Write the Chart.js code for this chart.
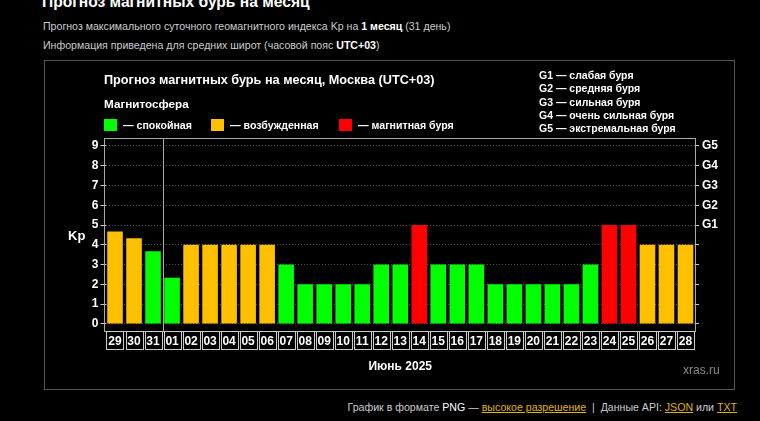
<!DOCTYPE html>
<html>
<head>
<meta charset="utf-8">
<script src="https://cdn.jsdelivr.net/npm/chart.js@4"></script>
<style>
  html, body { margin: 0; padding: 0; background: #000; }
  body { width: 760px; height: 421px; position: relative; overflow: hidden; font-family: "Liberation Sans", Arial, sans-serif; color: #fff; }
  .t { position: absolute; white-space: nowrap; }
  .b { font-weight: bold; }
  #box { position: absolute; left: 44px; top: 60px; width: 689px; height: 328px; border: 1px solid #555; }
  #kpChart { position: absolute; left: 44px; top: 60px; }
  .sq { position: absolute; width: 13px; height: 12px; }
  .lnk { color: #e0b400; text-decoration: underline; }
</style>
</head>
<body>
<div class="t b" style="left:42px; top:-7px; font-size:15.6px; line-height:18px;">Прогноз магнитных бурь на месяц</div>
<div class="t" style="left:43px; top:19px; font-size:10.6px; line-height:14px; color:#ccc;">Прогноз максимального суточного геомагнитного индекса Kp на <b style="color:#fff">1 месяц</b> (31 день)</div>
<div class="t" style="left:43px; top:38px; font-size:10.6px; line-height:14px; color:#ccc;">Информация приведена для средних широт (часовой пояс <b style="color:#fff">UTC+03</b>)</div>

<div id="box"></div>
<canvas id="kpChart" width="690" height="329"></canvas>

<div class="t b" style="left:104px; top:72px; font-size:12.7px; line-height:16px;">Прогноз магнитных бурь на месяц, Москва (UTC+03)</div>
<div class="t b" style="left:104px; top:96px; font-size:11.7px; line-height:15px;">Магнитосфера</div>
<div class="sq" style="left:104px; top:119px; background:#00ff00;"></div>
<div class="t b" style="left:123px; top:118px; font-size:10.6px; line-height:14px;">— спокойная</div>
<div class="sq" style="left:211px; top:119px; background:#ffc000;"></div>
<div class="t b" style="left:230px; top:118px; font-size:10.6px; line-height:14px;">— возбужденная</div>
<div class="sq" style="left:339px; top:119px; background:#ff0000;"></div>
<div class="t b" style="left:358px; top:118px; font-size:10.6px; line-height:14px;">— магнитная буря</div>

<div class="t b" style="left:539px; top:69px; font-size:10.5px; line-height:13.3px;">G1 — слабая буря<br>G2 — средняя буря<br>G3 — сильная буря<br>G4 — очень сильная буря<br>G5 — экстремальная буря</div>

<div class="t b" style="left:68px; top:228px; font-size:13px; line-height:16px;">Kp</div>
<div class="t" style="left:683px; top:363px; font-size:12px; line-height:15px; color:#8a8a8a;">xras.ru</div>

<div class="t" style="right:23px; top:400px; font-size:10.6px; line-height:15px; color:#ccc;">График в формате <span style="color:#fff">PNG</span> — <span class="lnk">высокое разрешение</span> &nbsp;|&nbsp; Данные API: <span class="lnk">JSON</span> или <span class="lnk">TXT</span></div>

<script>
// forecast days: 29 May .. 28 June 2025
const days = ['29', '30', '31', '01', '02', '03', '04', '05', '06', '07', '08', '09', '10', '11', '12', '13',
  '14', '15', '16', '17', '18', '19', '20', '21', '22', '23', '24', '25', '26', '27', '28'];
const kpValues = [4.67, 4.33, 3.67, 2.33, 4, 4, 4, 4, 4, 3, 2, 2, 2, 2, 3, 3,
  5, 3, 3, 3, 2, 2, 2, 2, 2, 3, 5, 5, 4, 4, 4];
const kpTicks = [0, 1, 2, 3, 4, 5, 6, 7, 8, 9];
const gLabels = { 5: 'G1', 6: 'G2', 7: 'G3', 8: 'G4', 9: 'G5' };
const monthLabel = 'Июнь 2025';
const monthStartIndex = 3;

function kpColor(v) {
  if (v >= 5) return '#ff0000';
  if (v >= 4) return '#ffc000';
  return '#00ff00';
}

const tickFont = { family: 'Liberation Sans', size: 12, weight: 'bold' };

const framePlugin = {
  id: 'frame',
  afterDraw(chart) {
    const ctx = chart.ctx;
    const area = chart.chartArea;
    const x = chart.scales.x;
    ctx.save();
    ctx.strokeStyle = '#aaa';
    ctx.lineWidth = 1;
    ctx.strokeRect(Math.round(area.left) - 1.5, Math.round(area.top) + 0.5,
      Math.round(area.right - area.left) + 1, Math.round(area.bottom - area.top));
    // month separator
    const sx = Math.round((x.getPixelForValue(monthStartIndex - 1) + x.getPixelForValue(monthStartIndex)) / 2) + 0.5;
    ctx.beginPath();
    ctx.moveTo(sx, area.top);
    ctx.lineTo(sx, area.bottom);
    ctx.stroke();
    // boxes round day labels
    const w = (area.right - area.left) / days.length;
    ctx.strokeStyle = '#ccc';
    days.forEach((d, i) => {
      const cx = x.getPixelForValue(i);
      ctx.strokeRect(Math.round(cx - w / 2) + 1.5, Math.round(area.bottom) + 0.5, Math.round(w) - 2, 18);
    });
    ctx.restore();
  }
};

new Chart(document.getElementById('kpChart'), {
  type: 'bar',
  data: {
    labels: days,
    datasets: [{
      data: kpValues,
      backgroundColor: kpValues.map(kpColor),
      borderWidth: 0,
      barPercentage: 0.82,
      categoryPercentage: 1
    }]
  },
  options: {
    responsive: false,
    animation: false,
    devicePixelRatio: 1,
    layout: { padding: { top: 78, left: 0, right: 0, bottom: 11 } },
    plugins: { legend: { display: false }, tooltip: { enabled: false } },
    scales: {
      x: {
        grid: { display: false, drawTicks: false },
        border: { display: false },
        ticks: { color: '#fff', font: tickFont, padding: 3, maxRotation: 0, autoSkip: false },
        title: { display: true, text: monthLabel, color: '#fff', font: tickFont, padding: { top: 8, bottom: 4 } }
      },
      y: {
        min: -0.37,
        max: 9.4,
        afterFit(s) { s.width = 61.5; },
        afterBuildTicks(s) { s.ticks = kpTicks.map(v => ({ value: v })); },
        grid: { color: '#555', tickColor: '#ccc', tickLength: 5, tickBorderDash: [] },
        border: { display: false, dash: [1, 2] },
        ticks: { color: '#fff', font: tickFont, padding: 2 }
      },
      y2: {
        position: 'right',
        min: -0.37,
        max: 9.4,
        afterFit(s) { s.width = 39; },
        afterBuildTicks(s) { s.ticks = kpTicks.map(v => ({ value: v })); },
        grid: { drawOnChartArea: false, color: '#ccc', tickLength: 4 },
        border: { display: false },
        ticks: { color: '#fff', font: tickFont, padding: 3, callback: v => gLabels[v] || '' }
      }
    }
  },
  plugins: [framePlugin]
});
</script>
</body>
</html>
